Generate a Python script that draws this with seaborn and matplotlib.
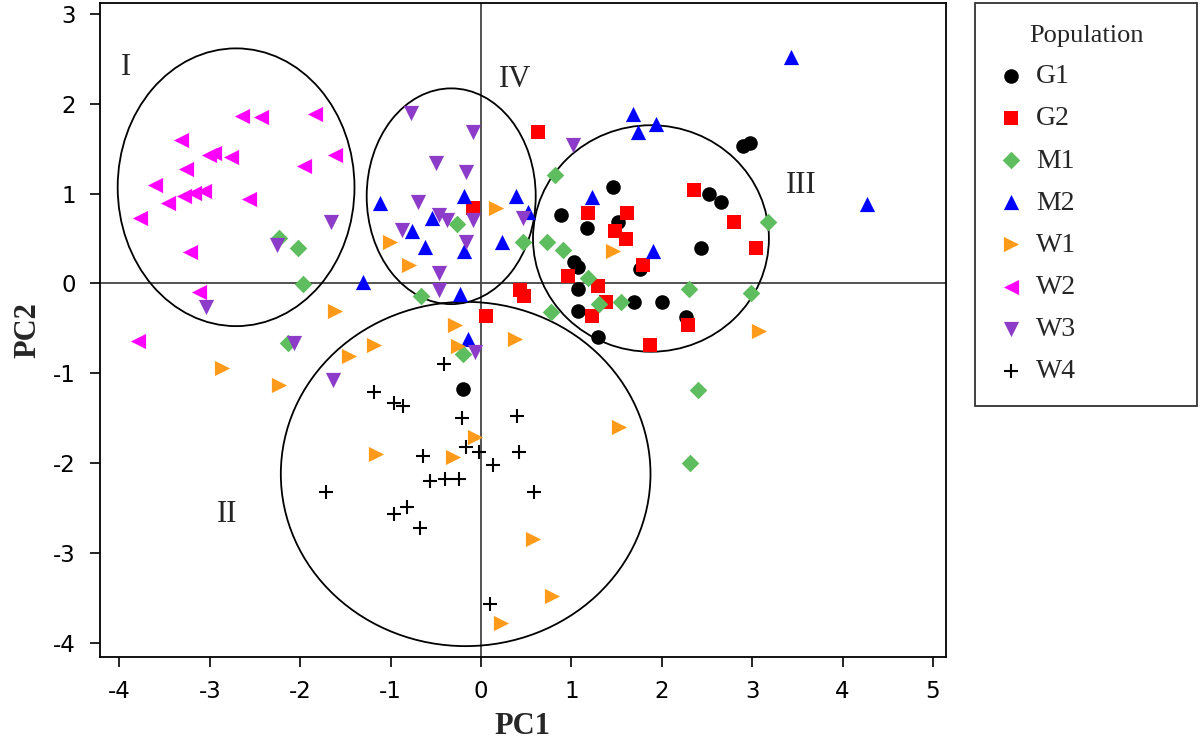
import numpy as np
import pandas as pd
import matplotlib
matplotlib.use("Agg")
import matplotlib.pyplot as plt
from matplotlib.patches import Ellipse
import seaborn as sns

# PCA scores, one pair of arrays per population
g1_x = [0.89, 1.46, 2.52, 2.66, 2.90, 2.98, 1.17, 1.52, 2.43, 1.03, 1.76, 1.07, 1.07, 1.69, 2.00, 1.07, 2.27, 1.29, -0.20]
g1_y = [0.76, 1.07, 1.00, 0.91, 1.53, 1.56, 0.62, 0.68, 0.39, 0.24, 0.16, 0.18, -0.06, -0.21, -0.21, -0.31, -0.37, -0.60, -1.17]

g2_x = [0.63, -0.09, 2.36, 1.18, 1.62, 2.80, 1.48, 1.60, 3.04, 1.79, 0.96, 1.29, 1.38, 1.23, 2.29, 1.87, 0.43, 0.47, 0.06]
g2_y = [1.68, 0.84, 1.04, 0.78, 0.78, 0.68, 0.58, 0.49, 0.39, 0.21, 0.08, -0.03, -0.21, -0.36, -0.46, -0.69, -0.07, -0.14, -0.36]

m1_x = [-2.23, -2.03, -1.97, -2.14, -0.27, 0.46, 0.73, 0.82, 0.91, 1.18, 1.30, 1.55, 2.30, 2.99, 3.17, 0.77, -0.66, -0.20, 2.40, 2.31]
m1_y = [0.50, 0.39, -0.01, -0.66, 0.66, 0.46, 0.46, 1.21, 0.37, 0.06, -0.23, -0.21, -0.06, -0.11, 0.68, -0.32, -0.14, -0.78, -1.19, -2.00]

m2_x = [3.43, 4.27, 1.68, 1.74, 1.94, 1.23, 1.90, -1.12, -0.19, 0.39, 0.52, -0.54, -0.76, -0.62, -0.19, 0.23, -1.31, -0.23, -0.14]
m2_y = [2.52, 0.88, 1.89, 1.69, 1.77, 0.96, 0.36, 0.90, 0.97, 0.97, 0.79, 0.73, 0.58, 0.40, 0.36, 0.46, 0.02, -0.12, -0.62]

w1_x = [0.17, -1.01, -0.80, 1.46, -1.62, -0.29, -0.26, 0.38, -1.18, -1.46, -2.87, -2.23, -1.16, -0.31, -0.07, 0.57, 0.79, 0.22, 1.53, 3.07]
w1_y = [0.84, 0.46, 0.21, 0.36, -0.31, -0.46, -0.70, -0.62, -0.68, -0.81, -0.94, -1.13, -1.90, -1.93, -1.71, -2.84, -3.48, -3.78, -1.60, -0.53]

w2_x = [-2.64, -2.43, -1.84, -3.32, -3.01, -2.95, -2.77, -1.62, -1.96, -3.26, -3.61, -3.46, -3.29, -3.18, -3.07, -2.57, -3.77, -3.22, -3.12, -3.79]
w2_y = [1.86, 1.85, 1.88, 1.60, 1.43, 1.45, 1.41, 1.43, 1.31, 1.27, 1.10, 0.90, 0.97, 1.01, 1.03, 0.94, 0.73, 0.35, -0.10, -0.64]

w3_x = [-0.77, -0.09, 1.02, -0.50, -0.17, -0.70, 0.46, -0.46, -0.38, -0.09, -0.87, -0.17, -0.46, -0.46, -1.66, -2.26, -3.04, -2.07, -1.64, -0.07]
w3_y = [1.90, 1.69, 1.54, 1.34, 1.24, 0.91, 0.73, 0.76, 0.71, 0.71, 0.60, 0.46, 0.12, -0.07, 0.68, 0.43, -0.26, -0.66, -1.07, -0.76]

w4_x = [-1.18, -0.96, -0.86, -1.71, -0.96, -0.82, -0.68, -0.64, -0.57, -0.40, -0.24, -0.17, -0.02, 0.13, -0.21, -0.41, 0.40, 0.42, 0.59, 0.10]
w4_y = [-1.21, -1.33, -1.36, -2.32, -2.56, -2.49, -2.72, -1.92, -2.20, -2.18, -2.18, -1.82, -1.88, -2.02, -1.50, -0.90, -1.48, -1.88, -2.32, -3.57]

populations = ["G1", "G2", "M1", "M2", "W1", "W2", "W3", "W4"]
xs = [g1_x, g2_x, m1_x, m2_x, w1_x, w2_x, w3_x, w4_x]
ys = [g1_y, g2_y, m1_y, m2_y, w1_y, w2_y, w3_y, w4_y]

group_names = ["I", "II", "III", "IV"]

markers = {"G1": "o", "G2": "s", "M1": "D", "M2": "^", "W1": ">", "W2": "<", "W3": "v", "W4": "+"}
colors = {"G1": "black", "G2": "#ff0000", "M1": "#5ebd5e", "M2": "#0000ff",
          "W1": "#ff9a1a", "W2": "#ff00ff", "W3": "#8c3cc8", "W4": "black"}
sizes = {"G1": 110, "G2": 95, "M1": 80, "M2": 120, "W1": 120, "W2": 120, "W3": 120, "W4": 110}

df = pd.concat([pd.DataFrame({"PC1": x, "PC2": y, "Population": p})
                for p, x, y in zip(populations, xs, ys)], ignore_index=True)

sns.set_style("white")
plt.rcParams["font.family"] = ["DejaVu Sans"]
plt.rcParams["axes.unicode_minus"] = False

fig = plt.figure(figsize=(12, 7.47), dpi=100)
ax = fig.add_axes([0.083, 0.12, 0.705, 0.876])

ax.axhline(0, color="#444444", lw=1.3, zorder=1)
ax.axvline(0, color="#444444", lw=1.3, zorder=1)

for p in populations:
    sub = df[df["Population"] == p]
    if p == "W4":
        sns.scatterplot(data=sub, x="PC1", y="PC2", marker="+", color=colors[p],
                        s=sizes[p], linewidth=1.5, label=p, ax=ax, zorder=3)
    else:
        sns.scatterplot(data=sub, x="PC1", y="PC2", marker=markers[p], color=colors[p],
                        s=sizes[p], linewidth=0, label=p, ax=ax, zorder=3)

# ellipses around the four groups (centre, width, height)
ell = [((-2.71, 1.07), 2.62, 3.09), ((-0.17, -2.12), 4.09, 3.83),
       ((1.88, 0.50), 2.61, 2.52), ((-0.33, 0.97), 1.87, 2.40)]
for (c, w, h) in ell:
    ax.add_patch(Ellipse(c, w, h, fill=False, edgecolor="black", lw=1.3, zorder=2))

lab_pos = [(-3.93, 2.40), (-2.81, -2.57), (3.54, 1.09), (0.38, 2.27)]
for name, (lx, ly) in zip(group_names, lab_pos):
    ax.text(lx, ly, name, fontsize=22, family="Liberation Serif", ha="center", va="center")

ax.set_xlim(-4.22, 5.14)
ax.set_ylim(-4.16, 3.12)
ax.set_xticks(range(-4, 6))
ax.set_yticks(range(-4, 4))
ax.tick_params(axis="both", direction="out", length=7, width=1.2, labelsize=16.5,
               left=True, bottom=True, colors="black")
ax.tick_params(axis="x", pad=9)
ax.tick_params(axis="y", pad=10)
for s in ax.spines.values():
    s.set_color("black")
    s.set_linewidth(1.3)

ax.set_xlabel("PC1", fontsize=22, fontweight="bold", family="Liberation Serif", labelpad=7)
ax.set_ylabel("PC2", fontsize=22, fontweight="bold", family="Liberation Serif", labelpad=8)

ax.get_legend().remove()
handles, labels = ax.get_legend_handles_labels()
leg = fig.legend(handles, labels, title="Population", loc="upper left",
                 bbox_to_anchor=(975 / 1200, 0.996, 222 / 1200, 0.0), mode="expand",
                 frameon=True, fancybox=False,
                 prop={"family": "Liberation Serif", "size": 20},
                 title_fontproperties={"family": "Liberation Serif", "size": 19},
                 labelspacing=0.6, handletextpad=0.4, borderpad=0.8,
                 borderaxespad=0.0, handlelength=1.0, markerscale=1.0)
leg.get_frame().set_edgecolor("black")
leg.get_frame().set_linewidth(1.3)

fig.savefig("out.png", dpi=100)
